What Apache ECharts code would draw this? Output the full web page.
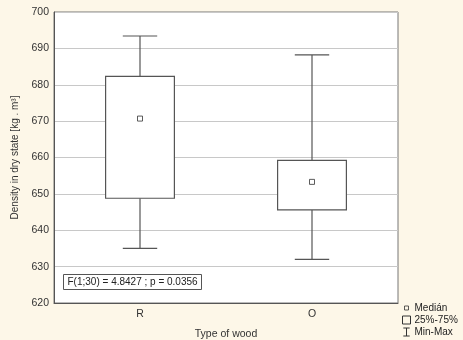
<!DOCTYPE html>
<html>
<head>
<meta charset="utf-8">
<script src="https://cdn.jsdelivr.net/npm/echarts@6/dist/echarts.min.js"></script>
<style>
  html, body { margin: 0; padding: 0; background: #fdf7e8; }
  #chart { width: 463px; height: 340px; }
</style>
</head>
<body>
<div id="chart"></div>
<script>
// values
const categories = ['R', 'O']
const minValues = [635, 632]
const q1Values = [648.8, 645.6]
const medianValues = [670.7, 653.3]
const q3Values = [682.3, 659.2]
const maxValues = [693.4, 688.2]
const yTicks = { min: 620, max: 700, interval: 10 }
const statText = 'F(1;30) = 4.8427 ; p = 0.0356'

const boxData = categories.map((c, i) => [i, q1Values[i], q3Values[i]])
const whiskerData = categories.map((c, i) => [i, minValues[i], q1Values[i], q3Values[i], maxValues[i]])
const medianData = categories.map((c, i) => [i, medianValues[i]])

const lineColor = '#555'
const font = 'Liberation Sans, Arial, sans-serif'

const chart = echarts.init(document.getElementById('chart'))

const option = {
  backgroundColor: '#fdf7e8',
  animation: false,
  grid: {
    left: 54,
    right: 65,
    top: 12,
    bottom: 37,
    outerBoundsMode: 'none',
    containLabel: false,
    show: true,
    backgroundColor: '#fff',
    borderColor: '#777',
    borderWidth: 1
  },
  xAxis: {
    type: 'category',
    data: categories,
    name: 'Type of wood',
    nameLocation: 'middle',
    nameGap: 26,
    nameTextStyle: { fontFamily: font, fontSize: 10.5, color: '#333' },
    axisLine: { lineStyle: { color: lineColor } },
    axisTick: { inside: true, length: 2, alignWithLabel: true, lineStyle: { color: lineColor } },
    axisLabel: { fontFamily: font, fontSize: 10.5, color: '#333', margin: 6 },
    splitLine: { show: false }
  },
  yAxis: {
    type: 'value',
    min: yTicks.min,
    max: yTicks.max,
    interval: yTicks.interval,
    name: 'Density in dry state [kg . m³]',
    nameLocation: 'middle',
    nameGap: 25,
    nameTextStyle: { fontFamily: font, fontSize: 10, color: '#333' },
    axisLine: { show: true, lineStyle: { color: lineColor } },
    axisTick: { show: false },
    axisLabel: { fontFamily: font, fontSize: 10.5, color: '#333', margin: 5 },
    splitLine: { lineStyle: { color: '#c8c8c8', width: 1 } }
  },
  legend: {
    orient: 'vertical',
    left: 402,
    top: 303,
    itemWidth: 8,
    itemHeight: 8,
    itemGap: 2,
    padding: 0,
    textStyle: { fontFamily: font, fontSize: 10, color: '#222', padding: [0, 0, 0, -1] },
    itemStyle: { color: 'rgba(0,0,0,0)', borderColor: '#333', borderWidth: 1 },
    data: [
      { name: 'Medián', icon: 'path://M0,0M10,10M2.5,2.5L7.5,2.5L7.5,7.5L2.5,7.5Z' },
      { name: '25%-75%', icon: 'path://M0,0L10,0L10,10L0,10Z' },
      { name: 'Min-Max', icon: 'path://M1,0L9,0M5,0L5,10M1,10L9,10' }
    ]
  },
  graphic: [
    {
      type: 'group',
      left: 63,
      top: 274,
      z: 100,
      children: [
        { type: 'rect', shape: { x: 0, y: 0, width: 138, height: 15 }, style: { fill: '#fff', stroke: lineColor, lineWidth: 1 } },
        { type: 'text', x: 4, y: 8, style: { text: statText, font: '10px ' + font, fill: '#222', verticalAlign: 'middle' } }
      ]
    }
  ],
  series: [
    {
      name: 'Min-Max',
      type: 'custom',
      data: whiskerData,
      encode: { x: 0, y: [1, 2, 3, 4] },
      renderItem: (params, api) => {
        const idx = api.value(0)
        const pMin = api.coord([idx, api.value(1)])
        const pQ1 = api.coord([idx, api.value(2)])
        const pQ3 = api.coord([idx, api.value(3)])
        const pMax = api.coord([idx, api.value(4)])
        const half = api.size([1, 0])[0] * 0.1
        const style = { stroke: lineColor, lineWidth: 1.2 }
        return {
          type: 'group',
          children: [
            { type: 'line', shape: { x1: pMax[0], y1: pMax[1], x2: pQ3[0], y2: pQ3[1] }, style },
            { type: 'line', shape: { x1: pQ1[0], y1: pQ1[1], x2: pMin[0], y2: pMin[1] }, style },
            { type: 'line', shape: { x1: pMax[0] - half, y1: pMax[1], x2: pMax[0] + half, y2: pMax[1] }, style },
            { type: 'line', shape: { x1: pMin[0] - half, y1: pMin[1], x2: pMin[0] + half, y2: pMin[1] }, style }
          ]
        }
      }
    },
    {
      name: '25%-75%',
      type: 'custom',
      data: boxData,
      encode: { x: 0, y: [1, 2] },
      renderItem: (params, api) => {
        const idx = api.value(0)
        const pLow = api.coord([idx, api.value(1)])
        const pHigh = api.coord([idx, api.value(2)])
        const w = api.size([1, 0])[0] * 0.4
        return {
          type: 'rect',
          shape: { x: pLow[0] - w / 2, y: pHigh[1], width: w, height: pLow[1] - pHigh[1] },
          style: { fill: '#fff', stroke: lineColor, lineWidth: 1.2 }
        }
      }
    },
    {
      name: 'Medián',
      type: 'scatter',
      data: medianData,
      symbol: 'rect',
      symbolSize: 5,
      z: 5,
      itemStyle: { color: '#fff', borderColor: '#333', borderWidth: 1 }
    }
  ]
}

chart.setOption(option)
</script>
</body>
</html>
